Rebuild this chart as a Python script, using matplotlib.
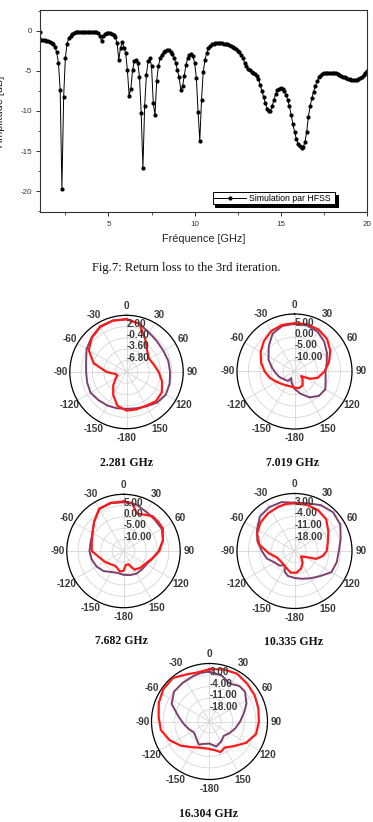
import numpy as np
import matplotlib
matplotlib.use("Agg")
import matplotlib.pyplot as plt

W, H = 373, 822
plt.rcParams['font.family'] = ['Liberation Sans', 'DejaVu Sans']
plt.rcParams['axes.unicode_minus'] = False

# ---------------- Return loss data (HFSS sweep, 0.1 GHz step from 1 GHz) ----------------
f_start, f_step = 1.0, 0.1
amp_db = [
    -0.1, -1.1, -1.2, -1.2, -1.3, -1.3, -1.4, -1.5, -1.7, -2.0,     # 1.0-1.9
    -2.7, -4.0, -7.4, -19.7, -8.3, -3.4, -1.6, -0.9, -0.6, -0.4,    # 2.0-2.9
    -0.3, -0.2, -0.2, -0.2, -0.2, -0.2, -0.2, -0.2, -0.2, -0.2,     # 3.0-3.9
    -0.2, -0.2, -0.2, -0.2, -0.3, -0.6, -1.3, -0.7, -0.4, -0.3,     # 4.0-4.9
    -0.3, -0.3, -0.4, -0.5, -0.8, -1.5, -3.6, -2.1, -1.4, -2.1,     # 5.0-5.9
    -2.8, -4.9, -8.1, -7.2, -4.9, -3.8, -3.6, -4.0, -5.7, -10.3,    # 6.0-6.9
    -17.1, -9.4, -5.5, -3.8, -3.4, -4.4, -9.0, -10.5, -6.2, -4.4,   # 7.0-7.9
    -3.4, -3.0, -2.6, -2.5, -2.4, -2.4, -2.6, -2.9, -3.4, -4.0,     # 8.0-8.9
    -4.9, -5.8, -7.4, -6.9, -5.6, -4.2, -3.4, -3.0, -2.9, -3.2,     # 9.0-9.9
    -4.0, -5.9, -10.1, -13.7, -8.6, -5.1, -3.6, -2.8, -2.2, -1.9,   # 10.0-10.9
    -1.7, -1.6, -1.5, -1.5, -1.5, -1.5, -1.5, -1.6, -1.6, -1.7,     # 11.0-11.9
    -1.8, -1.9, -2.0, -2.1, -2.3, -2.5, -2.7, -3.0, -3.4, -4.0,     # 12.0-12.9
    -4.4, -4.7, -4.9, -5.1, -5.2, -5.4, -5.6, -6.0, -6.7, -7.5,     # 13.0-13.9
    -8.2, -9.0, -9.7, -10.0, -10.0, -9.4, -8.6, -7.9, -7.4, -7.2,   # 14.0-14.9
    -7.1, -7.2, -7.5, -8.0, -8.6, -9.4, -10.5, -11.6, -12.6, -13.5, # 15.0-15.9
    -14.1, -14.4, -14.6, -14.5, -13.9, -12.6, -10.7, -9.4, -8.4, -7.6,  # 16.0-16.9
    -6.9, -6.3, -5.8, -5.6, -5.4, -5.3, -5.2, -5.2, -5.2, -5.2,     # 17.0-17.9
    -5.2, -5.3, -5.3, -5.4, -5.5, -5.6, -5.7, -5.8, -5.9, -6.0,     # 18.0-18.9
    -6.0, -6.1, -6.1, -6.1, -6.1, -6.0, -5.9, -5.7, -5.5, -5.2,     # 19.0-19.9
    -5.0,                                                           # 20.0
]
x_ticks = [5, 10, 15, 20]
y_ticks = [0, -5, -10, -15, -20]
legend_label = "Simulation par HFSS"
x_label = "Fréquence [GHz]"
y_label = "Amplitude [dB]"
fig_caption = "Fig.7: Return loss to the 3rd iteration."

# ---------------- Radiation patterns (angle deg clockwise from top, gain dB) ----------------
theta_ticks = [0, 30, 60, 90, 120, 150, 180, 210, 240, 270, 300, 330]
theta_labels = ['0', '30', '60', '90', '120', '150', '-180', '-150', '-120', '-90', '-60', '-30']

# 2.281 GHz
p1_red_ang = [0, 15, 30, 45, 60, 75, 90, 105, 120, 135, 150, 165, 180, 195, 210, 225, 240, 250, 260, 270, 285, 300, 315, 330, 345, 360]
p1_red_db = [4.9, 4.1, 0.6, -1.7, -2.6, -2.0, -0.9, 0.4, 1.5, 1.7, 1.0, 0.9, 0.9, -0.1, -2.5, -4.7, -6.5, -7.3, -6.8, -4.4, -0.4, 2.3, 3.8, 4.7, 5.0, 4.9]
p1_pur_ang = [0, 15, 30, 45, 60, 75, 90, 105, 120, 135, 150, 165, 180, 195, 210, 225, 240, 255, 270, 285, 300, 315, 330, 345, 360]
p1_pur_db = [4.9, 4.1, 2.8, 2.2, 2.0, 2.2, 2.3, 2.6, 2.8, 2.2, 1.2, 0.6, 0.4, 0.6, 0.9, 1.2, 1.7, 1.5, 1.4, 1.8, 3.0, 3.9, 4.9, 5.0, 4.9]
p1_rings = [-6.8, -3.6, -0.4, 2.8]
p1_ring_labels = ['-6.80', '-3.60', '-0.40', '2.00']
p1_rlim = (-10.0, 6.0)

# 7.019 GHz
p2_red_ang = [0, 15, 30, 45, 60, 75, 90, 105, 115, 125, 135, 150, 165, 180, 195, 210, 225, 240, 255, 270, 285, 300, 315, 330, 345, 360]
p2_red_db = [6.0, 6.3, 6.0, 5.0, 3.0, 0.5, -2.0, -4.5, -7.5, -11.5, -10.0, -8.0, -7.5, -8.0, -8.3, -8.0, -7.3, -6.0, -4.0, -2.0, 0.0, 2.0, 3.8, 5.3, 6.0, 6.0]
p2_pur_ang = [0, 15, 30, 45, 60, 75, 90, 105, 120, 135, 150, 165, 180, 195, 205, 215, 230, 250, 265, 280, 295, 315, 330, 345, 360]
p2_pur_db = [5.8, 5.8, 5.0, 3.3, 1.3, -0.5, -1.5, -1.0, 0.5, 0.0, -2.0, -5.0, -7.5, -10.0, -11.8, -10.0, -9.5, -8.0, -6.8, -5.0, -2.5, 0.8, 4.0, 5.5, 5.8]
p2_rings = [-10, -5, 0, 5]
p2_ring_labels = ['-10.00', '-5.00', '0.00', '5.00']
p2_rlim = (-15.0, 10.0)

# 7.682 GHz
p3_red_ang = [0, 10, 20, 30, 40, 50, 60, 75, 90, 105, 120, 135, 150, 160, 170, 180, 190, 200, 210, 225, 240, 255, 270, 285, 300, 315, 330, 345, 360]
p3_red_db = [6.8, 6.5, 2.5, 3.5, 5.0, 5.0, 5.0, 3.0, 0.8, -2.0, -3.8, -4.5, -5.5, -8.8, -8.8, -6.3, -5.8, -7.0, -7.5, -6.8, -5.5, -4.0, -1.0, -0.5, 0.8, 3.3, 6.5, 7.0, 6.8]
p3_pur_ang = [0, 15, 30, 45, 60, 75, 90, 105, 120, 135, 150, 165, 180, 195, 210, 225, 240, 255, 270, 285, 300, 315, 330, 345, 360]
p3_pur_db = [6.5, 6.3, 5.0, 4.5, 4.5, 3.0, 0.5, -1.8, -3.3, -3.5, -3.5, -4.0, -4.5, -5.0, -4.3, -2.5, -1.3, -0.5, 0.0, 0.0, 0.8, 3.3, 6.3, 6.8, 6.5]
p3_rings = [-10, -5, 0, 5]
p3_ring_labels = ['-10.00', '-5.00', '0.00', '5.00']
p3_rlim = (-15.0, 10.0)

# 10.335 GHz
p4_red_ang = [0, 15, 30, 45, 60, 75, 90, 100, 110, 120, 130, 145, 160, 175, 190, 205, 220, 235, 250, 265, 280, 295, 310, 325, 340, 350, 360]
p4_red_db = [4.1, 4.1, 3.7, 2.3, -1.2, -4.0, -5.4, -7.5, -11.0, -18.0, -19.8, -16.3, -13.5, -11.7, -11.7, -13.5, -14.5, -14.5, -13.5, -9.3, -3.3, 0.2, 2.0, 3.0, 3.7, 4.1, 4.1]
p4_pur_ang = [0, 15, 30, 45, 60, 75, 90, 105, 120, 135, 150, 165, 180, 195, 205, 215, 225, 240, 255, 270, 285, 300, 315, 330, 345, 360]
p4_pur_db = [4.4, 5.1, 7.2, 8.3, 7.2, 4.1, 2.0, 1.6, 0.9, -3.3, -5.8, -7.5, -8.6, -9.3, -11.0, -14.5, -12.4, -11.0, -7.5, -5.1, -1.6, 1.3, 4.8, 5.8, 5.8, 4.4]
p4_rings = [-18, -11, -4, 3]
p4_ring_labels = ['-18.00', '-11.00', '-4.00', '3.00']
p4_rlim = (-25.0, 10.0)

# 16.304 GHz
p5_red_ang = [0, 15, 30, 45, 60, 75, 90, 105, 120, 135, 150, 160, 170, 185, 200, 215, 230, 245, 260, 275, 290, 305, 320, 335, 345, 360]
p5_red_db = [6.5, 7.6, 8.3, 7.2, 6.5, 5.5, 4.8, 4.1, 0.6, -4.0, -6.8, -5.4, -7.5, -8.6, -8.2, -6.1, -2.3, 1.6, 4.8, 5.8, 7.6, 9.0, 9.3, 6.5, 5.5, 6.5]
p5_pur_ang = [0, 15, 28, 40, 50, 64, 75, 90, 105, 120, 135, 150, 165, 180, 195, 205, 220, 235, 250, 265, 280, 295, 310, 325, 340, 350, 360]
p5_pur_db = [5.1, 3.7, 0.9, 3.0, 3.0, -0.2, -3.3, -6.5, -8.9, -11.0, -12.8, -11.0, -9.3, -11.7, -11.0, -9.6, -12.4, -13.5, -11.7, -9.3, -5.8, 0.2, 3.0, 3.4, 4.1, 4.8, 5.1]
p5_rings = [-18, -11, -4, 3]
p5_ring_labels = ['-18.00', '-11.00', '-4.00', '3.00']
p5_rlim = (-25.0, 10.0)

captions = ['2.281 GHz', '7.019 GHz', '7.682 GHz', '10.335 GHz', '16.304 GHz']

# ---------------- figure ----------------
fig = plt.figure(figsize=(W / 100, H / 100), dpi=100)
fig.patch.set_facecolor('white')

def px_axes(left, top, right, bottom, **kw):
    return fig.add_axes([left / W, 1 - bottom / H, (right - left) / W, (bottom - top) / H], **kw)

# ---- return loss plot ----
AX_L, AX_T, AX_R, AX_B = 39.5, 10, 367, 212
ax = px_axes(AX_L, AX_T, AX_R, AX_B)
freq = f_start + f_step * np.arange(len(amp_db))
ax.plot(freq, amp_db, color='black', lw=0.7, marker='o', ms=2.0, mfc='black', mec='black',
        label=legend_label)
ax.set_xlim(1.0, 20.0)
ax.set_ylim(-22.6, 2.6)
ax.set_xticks(x_ticks)
ax.set_yticks(y_ticks)
ax.set_xticks([2.5, 7.5, 12.5, 17.5], minor=True)
ax.set_yticks([-2.5, -7.5, -12.5, -17.5, -22.5, 2.5], minor=True)
ax.tick_params(which='major', direction='out', length=3.0, width=0.7, labelsize=5.8,
               colors='#333333', pad=2.5)
ax.tick_params(axis='x', which='major', pad=3.5)
ax.tick_params(which='minor', direction='out', length=1.8, width=0.6, colors='#333333')
for s in ax.spines.values():
    s.set_color('#333333')
    s.set_linewidth(0.8)
ax.set_xlabel(x_label, fontsize=7.8, color='#222222', labelpad=4.5)
ax.set_ylabel(y_label, fontsize=7.8, color='#222222', va='center')
ax.yaxis.set_label_coords((-0.3 - AX_L) / (AX_R - AX_L), 0.5)

# legend box spans 212.7..335 px horizontally, top at 192.5 px
lx0 = (212.7 - AX_L) / (AX_R - AX_L)
lx1 = (335.0 - AX_L) / (AX_R - AX_L)
ly_top = (AX_B - 192.5) / (AX_B - AX_T)
leg = ax.legend(loc='upper left', bbox_to_anchor=(lx0, ly_top - 0.05, lx1 - lx0, 0.05),
                mode='expand', fontsize=6.3, frameon=True, fancybox=False,
                handlelength=3.6, handletextpad=0.35,
                borderpad=0.15, borderaxespad=0,
                shadow={'color': 'black', 'alpha': 1.0})
leg.get_frame().set_edgecolor('black')
leg.get_frame().set_linewidth(0.7)

fig.text(186.5 / W, 1 - 268 / H, fig_caption, fontsize=9, family='Liberation Serif',
         ha='center', va='center', color='#111111')

# ---- polar patterns ----
RED = '#ff1a1a'
PURPLE = '#7d3f70'

def polar_panel(cx, cy, R, red_ang, red_db, pur_ang, pur_db, rlim, rings, ring_labels,
                caption, cap_x, cap_y):
    pax = fig.add_axes([(cx - R) / W, 1 - (cy + R) / H, 2 * R / W, 2 * R / H], projection='polar')
    pax.set_theta_zero_location('N')
    pax.set_theta_direction(-1)
    pax.set_ylim(*rlim)
    pax.set_xticks(np.deg2rad(theta_ticks))
    pax.set_xticklabels(theta_labels)
    pax.set_xticks(np.deg2rad(np.arange(0, 360, 5)), minor=True)
    pax.set_yticks(rings)
    pax.set_yticklabels([])
    pax.tick_params(axis='x', which='major', labelsize=7.2, pad=-0.5,
                    length=0, width=0.7)
    pax.tick_params(axis='x', which='minor', length=2.0, width=0.5, direction='out', colors='black')
    for lab in pax.get_xticklabels():
        lab.set_color('#3a3a3a')
        lab.set_fontweight('bold')
    pax.grid(True, color='#d6d6d6', lw=0.6)
    pax.spines['polar'].set_color('black')
    pax.spines['polar'].set_linewidth(0.9)
    pax.plot(np.deg2rad(pur_ang), pur_db, color=PURPLE, lw=1.4, zorder=3)
    pax.plot(np.deg2rad(red_ang), red_db, color=RED, lw=1.6, zorder=4)
    for v, lab in zip(rings, ring_labels):
        pax.text(0, v, lab, fontsize=7.2, color='#3a3a3a', weight='bold',
                 ha='left', va='baseline', zorder=5)
    fig.text(cap_x / W, 1 - cap_y / H, caption, fontsize=8.5, family='Liberation Serif',
             weight='bold', ha='center', va='center', color='#111111')

polar_panel(126.5, 372, 56.7, p1_red_ang, p1_red_db, p1_pur_ang, p1_pur_db, p1_rlim, p1_rings,
            p1_ring_labels, captions[0], 126, 463)
polar_panel(294.5, 371.5, 57.5, p2_red_ang, p2_red_db, p2_pur_ang, p2_pur_db, p2_rlim, p2_rings,
            p2_ring_labels, captions[1], 292, 463)
polar_panel(123.5, 551, 56.7, p3_red_ang, p3_red_db, p3_pur_ang, p3_pur_db, p3_rlim, p3_rings,
            p3_ring_labels, captions[2], 121, 641)
polar_panel(294.5, 551, 57.5, p4_red_ang, p4_red_db, p4_pur_ang, p4_pur_db, p4_rlim, p4_rings,
            p4_ring_labels, captions[3], 294, 642)
polar_panel(209.5, 721.5, 58, p5_red_ang, p5_red_db, p5_pur_ang, p5_pur_db, p5_rlim, p5_rings,
            p5_ring_labels, captions[4], 208, 814)

fig.savefig('out.png', dpi=100, facecolor='white')
